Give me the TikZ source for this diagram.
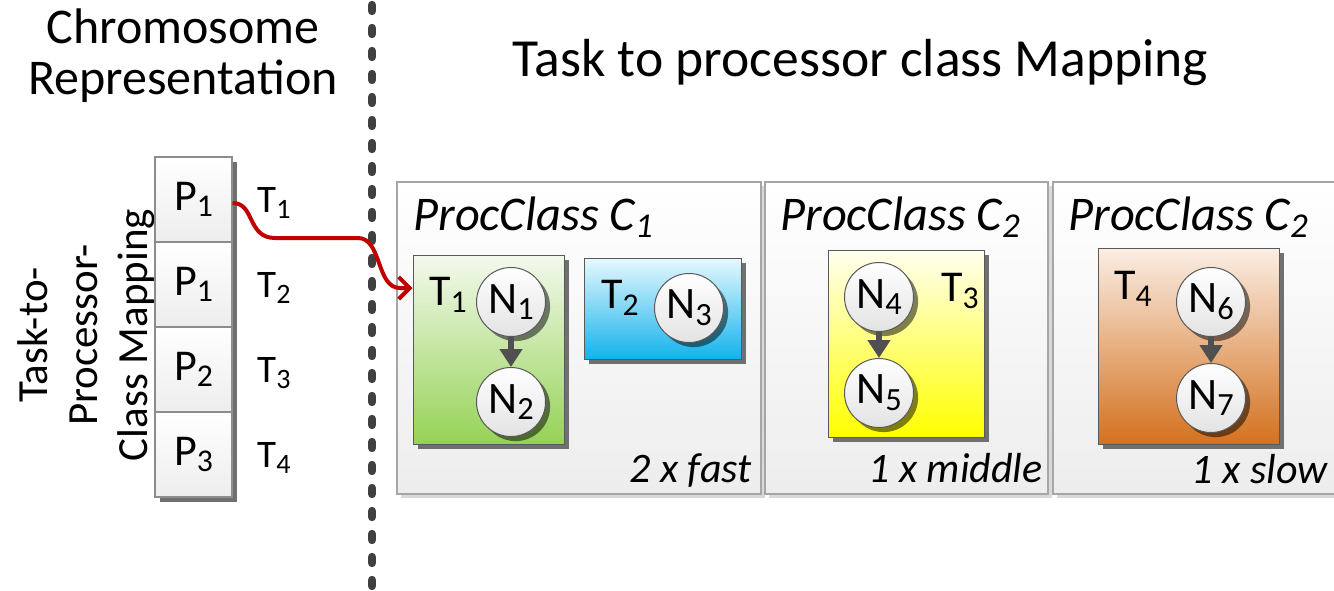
\documentclass[tikz,border=0pt]{standalone}
\usepackage{fontspec}
\setmainfont{Carlito}
\usepackage{graphicx}
\usetikzlibrary{arrows.meta,shadows}
\newcommand\sbs[1]{\raisebox{-0.15em}{\scalebox{0.72}{#1}}}
\definecolor{redline}{HTML}{C00000}
\definecolor{dotc}{HTML}{404040}
\definecolor{pcborder}{HTML}{A6A6A6}
\definecolor{pcbottom}{HTML}{EDEDED}
\definecolor{pcshadow}{HTML}{D9D9D9}
\definecolor{cellborder}{HTML}{8C8C8C}
\definecolor{darkshadow}{HTML}{707070}
\definecolor{boxborder}{HTML}{595959}
\definecolor{greentop}{HTML}{F3F9EE}
\definecolor{greenbot}{HTML}{96D256}
\definecolor{bluetop}{HTML}{E8F8FE}
\definecolor{bluebot}{HTML}{12B3EC}
\definecolor{yellowtop}{HTML}{FFFFF0}
\definecolor{yellowbot}{HTML}{FFFF00}
\definecolor{orangetop}{HTML}{FBEEE4}
\definecolor{orangebot}{HTML}{D4711F}
\definecolor{arrowc}{HTML}{505050}
\definecolor{circbot}{HTML}{E3E3E3}
\tikzset{
  pcbox/.style={rectangle, draw=pcborder, line width=0.6pt, top color=white, bottom color=pcbottom,
    inner sep=0pt, drop shadow={opacity=1, fill=pcshadow, shadow xshift=2pt, shadow yshift=-2pt}},
  cellbox/.style={rectangle, draw=cellborder, line width=0.6pt, top color=white, bottom color=pcbottom,
    inner sep=0pt, minimum width=38.5pt, minimum height=42.5pt,
    font=\fontsize{22pt}{26pt}\selectfont,
    drop shadow={opacity=1, fill=darkshadow, shadow xshift=2.5pt, shadow yshift=-2.5pt}},
  taskbox/.style={rectangle, draw=boxborder, line width=0.5pt, inner sep=0pt,
    drop shadow={opacity=1, fill=darkshadow, shadow xshift=2.5pt, shadow yshift=-2.5pt}},
  nodecirc/.style={circle, draw=boxborder, line width=0.5pt, top color=white, bottom color=circbot,
    inner sep=0pt, minimum size=34.5pt, font=\fontsize{22.5pt}{25pt}\selectfont,
    drop shadow={opacity=0.5, fill=black, shadow xshift=2.3pt, shadow yshift=-2.3pt}},
  innerarrow/.style={draw=arrowc, line width=3pt, -{Triangle[length=9pt,width=11pt]}},
  chromtitle/.style={font=\fontsize{25pt}{29pt}\selectfont, inner sep=0pt, anchor=base},
  maintitle/.style={font=\fontsize{26.8pt}{30pt}\selectfont, inner sep=0pt, anchor=base},
  pctitle/.style={font=\fontsize{24.2pt}{28pt}\selectfont\itshape, inner sep=0pt, anchor=base west},
  pcfoot/.style={font=\fontsize{21pt}{25pt}\selectfont\itshape, inner sep=0pt, anchor=base east},
  tlabel/.style={font=\fontsize{19.5pt}{23pt}\selectfont, inner sep=0pt},
  boxlabel/.style={font=\fontsize{22pt}{26pt}\selectfont, inner sep=0pt},
  sidetext/.style={font=\fontsize{21.5pt}{25pt}\selectfont, align=center, rotate=90, inner sep=0pt},
}
\begin{document}
\begin{tikzpicture}[x=0.5pt,y=-0.5pt]
\useasboundingbox (0,0) rectangle (1334,590);
\clip (0,0) rectangle (1334,590);
% titles
\node[chromtitle] (chromA) at (183,43) {Chromosome};
\node[chromtitle] (chromB) at (183,94) {Representation};
\node[maintitle] (title) at (860.5,76) {Task to processor class Mapping};
% separator
\coordinate (dtop) at (372,5);
\coordinate (dbot) at (372,600);
\draw[dotc, line width=4.2pt, line cap=round, dash pattern=on 3pt off 8.5pt] (dtop) -- (dbot);
% side text
\node[sidetext] (side) at (86,335) {Task-to-\\Processor-\\Class Mapping};
% chromosome cells
\node[cellbox] (c1) at (193.5,199.5) {P\sbs{1}};
\node[cellbox] (c2) at (193.5,284.5) {P\sbs{1}};
\node[cellbox] (c3) at (193.5,369.5) {P\sbs{2}};
\node[cellbox] (c4) at (193.5,454.5) {P\sbs{3}};
\node[tlabel] (l1) at (274,203) {T\sbs{1}};
\node[tlabel] (l2) at (274,288) {T\sbs{2}};
\node[tlabel] (l3) at (274,373) {T\sbs{3}};
\node[tlabel] (l4) at (274,458) {T\sbs{4}};
% processor class boxes
\node[pcbox, minimum width=182pt, minimum height=156pt] (pc1) at (579,338) {};
\node[pcbox, minimum width=141.5pt, minimum height=156pt] (pc2) at (906.5,338) {};
\node[pcbox, minimum width=143.5pt, minimum height=156pt] (pc3) at (1196.5,338) {};
\node[pctitle] (pt1) at (413,230) {ProcClass C\sbs{1}};
\node[pctitle] (pt2) at (780,230) {ProcClass C\sbs{2}};
\node[pctitle] (pt3) at (1068,230) {ProcClass C\sbs{2}};
\node[pcfoot] (f1) at (752,482) {2 x fast};
\node[pcfoot] (f2) at (1043,482) {1 x middle};
\node[pcfoot] (f3) at (1328,483) {1 x slow};
% task boxes
\node[taskbox, top color=greentop, bottom color=greenbot, minimum width=75.5pt, minimum height=94.5pt] (t1) at (488.5,349.5) {};
\node[taskbox, top color=bluetop, bottom color=bluebot, minimum width=78.5pt, minimum height=50.5pt] (t2) at (662.5,308.5) {};
\node[taskbox, top color=yellowtop, bottom color=yellowbot, minimum width=78pt, minimum height=93.5pt] (t3) at (906,343.5) {};
\node[taskbox, top color=orangetop, bottom color=orangebot, minimum width=90.5pt, minimum height=98pt] (t4) at (1188.5,346) {};
\node[boxlabel] (tl1) at (448,295) {T\sbs{1}};
\node[boxlabel] (tl2) at (620,298) {T\sbs{2}};
\node[boxlabel] (tl3) at (960,291) {T\sbs{3}};
\node[boxlabel] (tl4) at (1133,289) {T\sbs{4}};
% graph nodes
\node[nodecirc] (n1) at (511,302) {N\sbs{1}};
\node[nodecirc] (n2) at (511,402) {N\sbs{2}};
\node[nodecirc] (n3) at (689,308) {N\sbs{3}};
\node[nodecirc] (n4) at (879,297) {N\sbs{4}};
\node[nodecirc] (n5) at (879,393) {N\sbs{5}};
\node[nodecirc] (n6) at (1211,302) {N\sbs{6}};
\node[nodecirc] (n7) at (1211,398) {N\sbs{7}};
\draw[innerarrow] (n1) -- (n2);
\draw[innerarrow] (n4) -- (n5);
\draw[innerarrow] (n6) -- (n7);
% mapping arrow
\draw[redline, line width=2pt, -{Straight Barb[length=5.5pt,width=11pt]}]
  (c1.east |- 0,203) .. controls (255,203) and (247,238) .. (275,238) -- (358,238)
  .. controls (382,238) and (376,288) .. (400,288) -- (t1.west |- 0,288);
\end{tikzpicture}
\end{document}
